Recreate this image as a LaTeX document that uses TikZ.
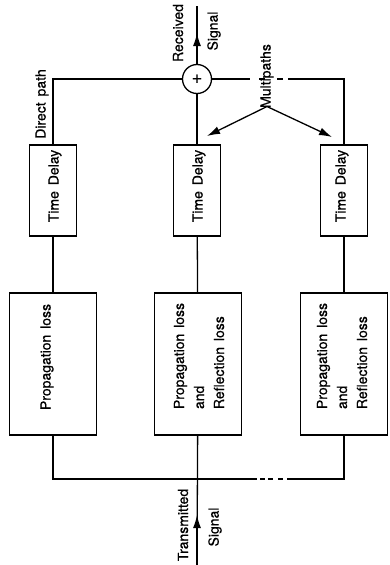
\documentclass[tikz,border=0pt]{standalone}
\usepackage{fontspec}
\setmainfont{TeX Gyre Heros}[FakeBold=0.5]
\usetikzlibrary{arrows.meta}
\newcommand\wsp{\hspace{0.42em}}
\begin{document}
\begin{tikzpicture}[x=1pt,y=-1pt,
  line width=1.3pt,
  every node/.style={font=\fontsize{14}{20}\selectfont, inner sep=0pt},
  tdbox/.style={draw, minimum width=47pt, minimum height=91pt},
  plbox/.style={draw, minimum width=87pt, minimum height=142pt},
  lbl/.style={rotate=90, align=left},
  arr/.style={-{Latex[length=13pt,width=8pt]}},
  dashA/.style={dash pattern=on 0pt off 9pt on 6pt off 12pt on 6pt off 5pt},
  dashB/.style={dash pattern=on 0pt off 3pt on 5pt off 3pt on 5pt off 5pt on 5pt off 4pt}]
\useasboundingbox (0,0) rectangle (389,565);
% boxes
\node[tdbox] (ltd) at (53,190.5) {};
\node[tdbox] (mtd) at (197,190.5) {};
\node[tdbox] (rtd) at (344,190.5) {};
\node[plbox] (lpl) at (53,364) {};
\node[plbox] (mpl) at (198,364) {};
\node[plbox] (rpl) at (344,364) {};
% box texts
\node[lbl] (ltdt) at (55,186) {Time\wsp Delay};
\node[lbl] (mtdt) at (199,186) {Time\wsp Delay};
\node[lbl] (rtdt) at (342,186) {Time\wsp Delay};
\node[lbl] (lplt) at (47,357) {Propagation\wsp loss};
\node[lbl] (mplt) at (199,356) {Propagation\wsp loss\\and\\Reflection\wsp loss};
\node[lbl] (rplt) at (342,356) {Propagation\wsp loss\\and\\Reflection\wsp loss};
% summing junction
\node[draw, circle, minimum size=29pt, font=\fontsize{18}{20}\selectfont] (sum) at (197,79) {+};
% coordinates
\coordinate (tl) at (53,79);
\coordinate (d1) at (250,79);
\coordinate (d2) at (288,79);
\coordinate (tr) at (344,79);
\coordinate (bl) at (53,479);
\coordinate (b1) at (257,479);
\coordinate (b2) at (287,479);
\coordinate (br) at (344,479);
\coordinate (rxtop) at (197,6);
\coordinate (rxtip) at (197,33);
\coordinate (txbot) at (197,565);
\coordinate (txtip) at (197,515);
\coordinate (m1) at (207,136);
\coordinate (m2) at (332,137);
% connectors
\draw (ltd) -- (tl) -- (sum);
\draw (sum) -- (d1);
\draw[dashA] (d1) -- (d2);
\draw (d2) -- (tr) -- (rtd);
\draw (sum) -- (mtd);
\draw (ltd) -- (lpl);
\draw (mtd) -- (mpl);
\draw (rtd) -- (rpl);
\draw (lpl) -- (bl) -- (b1);
\draw[dashB] (b1) -- (b2);
\draw (b2) -- (br) -- (rpl);
\draw (mpl) -- (txbot);
\draw[arr] (txbot) -- (txtip);
\draw (sum) -- (rxtop);
\draw[arr] (sum) -- (rxtip);
% labels
\node[lbl] (rxl) at (178,33) {Received};
\node[lbl] (rxs) at (214,31) {Signal};
\node[lbl] (dp) at (42,104) {Direct\wsp path};
\node[lbl] (mp) at (267,76) {Multipaths};
\node[lbl] (txl) at (183,525) {Transmitted};
\node[lbl] (txs) at (215,527) {Signal};
\draw[arr] ([yshift=2pt]mp.west) -- (m1);
\draw[arr] ([yshift=2pt]mp.west) -- (m2);
\end{tikzpicture}
\end{document}
